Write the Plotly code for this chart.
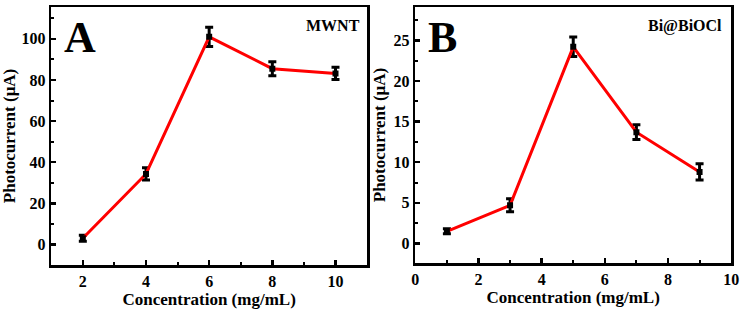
import plotly.graph_objects as go

# Panel A (MWNT)
conc_a = [2, 4, 6, 8, 10]
current_a = [3.0, 34.3, 101.0, 85.5, 83.2]
err_a = [1.5, 3.0, 4.7, 3.4, 3.0]

# Panel B (Bi@BiOCl)
conc_b = [1, 3, 5, 7, 9]
current_b = [1.5, 4.7, 24.2, 13.7, 8.8]
err_b = [0.3, 0.8, 1.2, 0.9, 1.0]

W, H = 749, 310
FONT = "Liberation Serif, Times New Roman, serif"

def px_x(p):
    return p / W

def px_y(p):
    return 1 - p / H

fig = go.Figure()

for xs, ys, es, xa, ya in [(conc_a, current_a, err_a, "x", "y"),
                           (conc_b, current_b, err_b, "x2", "y2")]:
    fig.add_trace(go.Scatter(
        x=xs, y=ys, xaxis=xa, yaxis=ya, mode="lines+markers",
        line=dict(color="#ff0000", width=3),
        marker=dict(symbol="square", size=6, color="black"),
        error_y=dict(type="data", array=es, color="black", thickness=3, width=4),
        showlegend=False,
    ))

tickfont = dict(family=FONT, size=16, color="black", weight="bold")
titlefont = dict(family=FONT, size=17, color="black", weight="bold")

def xaxis(domain, rng, dtick, anchor):
    return dict(domain=domain, range=rng, anchor=anchor, dtick=dtick, tick0=0,
                showgrid=False, zeroline=False, showline=True, mirror=True,
                linecolor="black", linewidth=2.5, ticks="inside", ticklen=5,
                tickwidth=2.5, tickcolor="black", tickfont=tickfont,
                minor=dict(dtick=dtick / 2, tick0=0, ticks="inside", ticklen=3,
                           tickwidth=2, tickcolor="black", showgrid=False),
                title=dict(text="Concentration (mg/mL)", font=titlefont, standoff=2))

def yaxis(domain, rng, dtick, anchor):
    return dict(domain=domain, range=rng, anchor=anchor, dtick=dtick, tick0=0,
                showgrid=False, zeroline=False, showline=True, mirror=True,
                linecolor="black", linewidth=2.5, ticks="inside", ticklen=5,
                tickwidth=2.5, tickcolor="black", tickfont=tickfont,
                minor=dict(dtick=dtick / 2, tick0=0, ticks="inside", ticklen=3,
                           tickwidth=2, tickcolor="black", showgrid=False),
                title=dict(text="Photocurrent (μA)", font=titlefont, standoff=4))

fig.update_layout(
    width=W, height=H,
    margin=dict(l=0, r=0, t=0, b=0),
    paper_bgcolor="white", plot_bgcolor="white",
    xaxis=xaxis([px_x(48), px_x(369)], [1, 11], 2, "y"),
    yaxis=yaxis([px_y(265), px_y(7)], [-10, 115.5], 20, "x"),
    xaxis2=xaxis([px_x(418), px_x(739)], [0, 10], 2, "y2"),
    yaxis2=yaxis([px_y(263), px_y(7)], [-2.4, 29.1], 5, "x2"),
)

annots = [
    dict(text="A", x=px_x(77), y=px_y(38), size=44),
    dict(text="B", x=px_x(446), y=px_y(38), size=44),
    dict(text="MWNT", x=px_x(334), y=px_y(26), size=16),
    dict(text="Bi@BiOCl", x=px_x(692), y=px_y(26), size=16),
]
for a in annots:
    fig.add_annotation(text=a["text"], x=a["x"], y=a["y"], xref="paper", yref="paper",
                       showarrow=False, xanchor="center", yanchor="middle",
                       font=dict(family=FONT, size=a["size"], color="black", weight="bold"))

fig.write_html("out.html",
               config={"displayModeBar": False, "staticPlot": True},
               post_script="document.body.style.margin='0';document.body.style.overflow='hidden';")
